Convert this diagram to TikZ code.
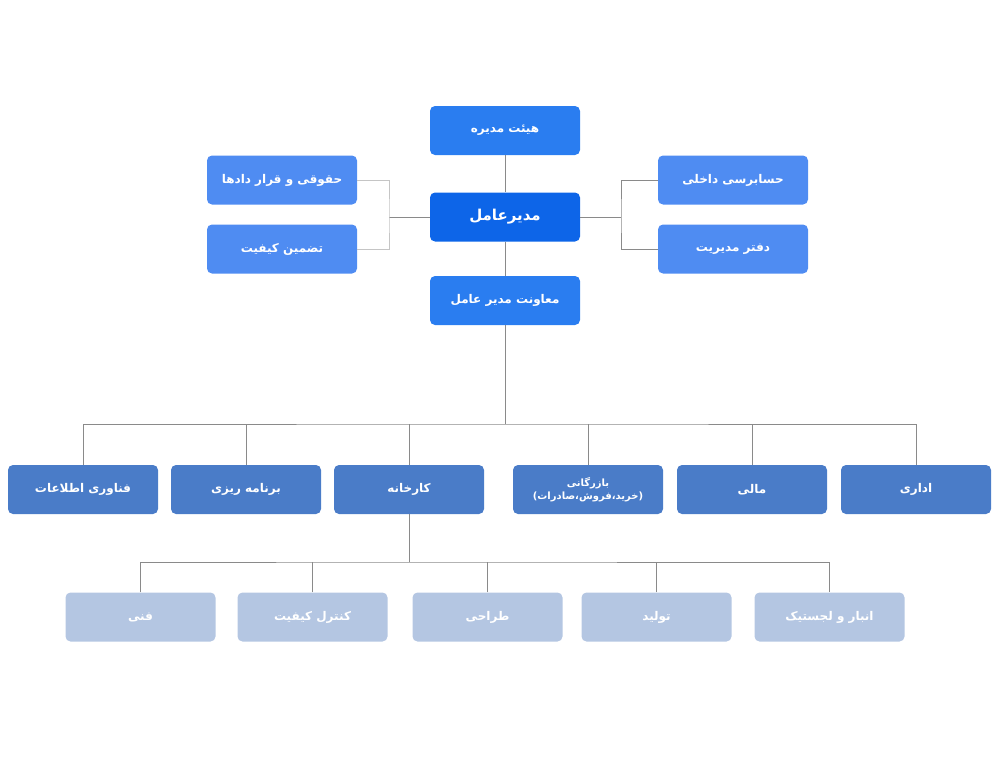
\documentclass[tikz,border=0pt]{standalone}
\usepackage{fontspec}
\TeXXeTstate=1
\newfontfamily\fa[Script=Arabic]{DejaVu Sans}
\definecolor{cTop}{HTML}{2A7DF0}
\definecolor{cCeo}{HTML}{0D65E8}
\definecolor{cSide}{HTML}{4F8CF2}
\definecolor{cRow}{HTML}{4A7CC8}
\definecolor{cLow}{HTML}{B4C6E2}
\definecolor{cLine}{HTML}{8A8A8A}
\tikzset{
  x=1pt,y=-1pt,
  box/.style={rounded corners=5pt,draw=none,text=white,minimum width=150pt,minimum height=49pt,inner sep=2pt,font=\fa\bfseries\fontsize{12}{14}\selectfont,align=center},
  ln/.style={draw=cLine,line width=0.7pt}
}
\newcommand{\rt}[1]{\beginR #1\endR}
\begin{document}
\begin{tikzpicture}
\useasboundingbox (0,0) rectangle (1003,768);
\node[box,fill=cTop] (board) at (505,130.5) {\rt{هیئت مدیره}};
\node[box,fill=cCeo,font=\fa\bfseries\fontsize{15}{17}\selectfont] (ceo) at (505,217) {\rt{مدیرعامل}};
\node[box,fill=cTop] (dep) at (505,300.5) {\rt{معاونت مدیر عامل}};
\node[box,fill=cSide] (legal) at (282,180) {\rt{حقوقی و قرار دادها}};
\node[box,fill=cSide] (qa) at (282,249) {\rt{تضمین کیفیت}};
\node[box,fill=cSide] (audit) at (733,180) {\rt{حسابرسی داخلی}};
\node[box,fill=cSide] (office) at (733,249) {\rt{دفتر مدیریت}};
\foreach \n/\x/\t in {it/83/فناوری اطلاعات, plan/246/برنامه ریزی, fac/409/کارخانه, fin/752/مالی, adm/916/اداری}
  \node[box,fill=cRow] (\n) at (\x,489.5) {\rt{\t}};
\node[box,fill=cRow,font=\fa\bfseries\fontsize{10}{13}\selectfont] (com) at (588,489.5) {\rt{بازرگانی}\\\rt{(خرید،فروش،صادرات)}};
\foreach \n/\x/\t in {tech/140.5/فنی, qc/312.5/کنترل کیفیت, des/487.5/طراحی, prod/656.5/تولید, wh/829.5/انبار و لجستیک}
  \node[box,fill=cLow] (\n) at (\x,617) {\rt{\t}};
% connectors
\draw[ln] (board) -- (ceo);
\draw[ln] (ceo) -- (dep);
\coordinate (bus1) at (505,424);
\draw[ln] (dep) -- (bus1);
\draw[ln] (it.north) |- (bus1) -| (adm.north);
\foreach \n in {plan,fac,com,fin} \draw[ln] (\n.north) -- (\n.north |- bus1);
\coordinate (bus2) at (409,562);
\draw[ln] (fac) -- (bus2);
\draw[ln] (tech.north) |- (bus2) -| (wh.north);
\foreach \n in {qc,des,prod} \draw[ln] (\n.north) -- (\n.north |- bus2);
\coordinate (lb) at (389,217);
\draw[ln] (ceo.west) -- (lb);
\draw[ln,draw=cLine!50] (legal.east) -| (lb) |- (qa.east);
\coordinate (rb) at (621,217);
\draw[ln] (ceo.east) -- (rb);
\draw[ln] (audit.west) -| (rb) |- (office.west);
\end{tikzpicture}
\end{document}
